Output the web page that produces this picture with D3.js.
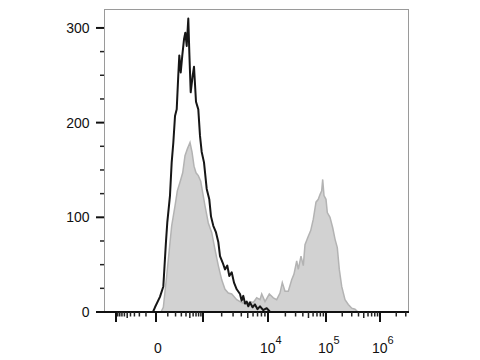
<!DOCTYPE html>
<html>
<head>
<meta charset="utf-8">
<script src="https://cdn.jsdelivr.net/npm/d3@7"></script>
<style>
body { margin: 0; background: #fff; }
</style>
</head>
<body>
<div id="my_dataviz"></div>
<script>
var width = 480;
var height = 360;

// control sample (black outline), intensity / events
var controlX = [-1900, -25, -8, 28, 56, 81, 95, 125, 146, 168, 192, 218, 244, 262, 288, 319, 355, 384, 418, 458,
    485, 525, 586, 629, 699, 788, 860, 937, 1039, 1152, 1270, 1353, 1474, 1628, 1770, 1883, 2076, 2253, 2446, 2626,
    2858, 3100, 3407, 3824, 4050, 4287, 4550, 4824, 5100, 5405, 5900, 6417, 7000, 7614, 8500, 9569, 10900, 3400000];
var controlY = [0, 0, 5, 16, 27, 74, 95, 123, 158, 179, 207, 214, 250, 271, 253, 271, 288, 295, 281, 310,
    275, 232, 250, 259, 222, 214, 186, 169, 158, 130, 119, 101, 91, 84, 74, 59, 52, 45, 49, 38,
    42, 31, 24, 19, 12, 17, 9, 11, 6, 10, 5, 8, 3, 6, 2, 4, 0, 0];

// stained sample (gray filled)
var stainedX = [-1900, 36, 56, 88, 117, 146, 192, 228, 274, 327, 377, 432, 505, 564, 629, 699, 788, 891, 985, 1080,
    1223, 1389, 1569, 1770, 2003, 2253, 2534, 2858, 3407, 4056, 4824, 5400, 6053, 6800, 7614, 8072, 9033, 10538, 12363, 14158,
    16150, 17695, 19710, 22470, 25710, 28170, 31365, 33405, 37185, 40740, 43560, 49635, 54600, 60510, 67335, 73740, 78870, 84330, 87765, 92385,
    100000, 105735, 118605, 133110, 146805, 161970, 176370, 195390, 224925, 258960, 299295, 344490, 391500, 3400000];
var stainedY = [0, 0, 5, 38, 66, 91, 112, 128, 137, 147, 165, 172, 179, 169, 154, 147, 144, 138, 126, 112,
    94, 84, 66, 49, 34, 24, 20, 19, 13, 10, 8, 11, 10, 15, 13, 19, 11, 19, 15, 13,
    20, 31, 22, 22, 34, 40, 54, 45, 59, 49, 71, 80, 86, 98, 116, 119, 124, 128, 140, 123,
    119, 105, 100, 89, 77, 68, 45, 27, 13, 8, 4, 3, 0, 0];

var yTickValues = [0, 100, 200, 300];
var xMajorTicks = [-1000, 0, 1000, 10000, 100000, 1000000];
var xLabelValues = [0, 10000, 100000, 1000000];
var xLabelExp = ['', '4', '5', '6'];

var svg = d3.select("#my_dataviz").append('svg').attr('width', width).attr('height', height)
    .style('display', 'block')
    .attr('font-family', '"Liberation Sans", Arial, Helvetica, sans-serif');

var plotLeft = 104, plotRight = 409, plotTop = 9, plotBottom = 312;

// biexponential-like display axis
var x = d3.scaleSymlog().constant(150)
    .domain([-1000, 0, 1000, 10000, 100000, 1000000])
    .range([116, 156, 203, 268, 326, 380]);
var y = d3.scaleLinear().domain([0, 320]).range([plotBottom, plotTop]);

// frame
svg.append('rect').attr('x', plotLeft + 0.5).attr('y', plotTop + 0.5)
    .attr('width', plotRight - plotLeft - 1).attr('height', plotBottom - plotTop)
    .attr('fill', 'none').attr('stroke', '#9a9a9a').attr('stroke-width', 1);

var stained = stainedX.map(function(v, i){ return [v, stainedY[i]]; });
var control = controlX.map(function(v, i){ return [v, controlY[i]]; });

var area = d3.area().x(function(d){ return x(d[0]); }).y0(y(0)).y1(function(d){ return y(d[1]); });
var line = d3.line().x(function(d){ return x(d[0]); }).y(function(d){ return y(d[1]); });

var plot = svg.append('g').attr('class', 'plot');
plot.append('path').datum(stained).attr('d', area)
    .attr('fill', '#d2d2d2').attr('stroke', '#b3b3b3').attr('stroke-width', 1.5);
plot.append('path').datum(control).attr('d', line)
    .attr('fill', 'none').attr('stroke', '#161616').attr('stroke-width', 2).attr('stroke-linejoin', 'round');

// y axis ticks
var yMinor = d3.range(25, 320, 25).filter(function(v){ return v % 100 != 0; });
var yAxis = svg.append('g').attr('class', 'y_axis');
yAxis.selectAll('.ymaj').data(yTickValues).enter().append('line')
    .attr('x1', 96).attr('x2', plotLeft).attr('y1', function(d){ return y(d); }).attr('y2', function(d){ return y(d); })
    .attr('stroke', '#111').attr('stroke-width', 2);
yAxis.selectAll('.ymin').data(yMinor).enter().append('line')
    .attr('x1', 100).attr('x2', plotLeft).attr('y1', function(d){ return y(d); }).attr('y2', function(d){ return y(d); })
    .attr('stroke', '#222').attr('stroke-width', 1.5);
yAxis.selectAll('text').data(yTickValues).enter().append('text')
    .attr('x', 89.5).attr('y', function(d){ return y(d); }).attr('dy', '0.35em')
    .attr('text-anchor', 'end').attr('font-size', 14).attr('fill', '#111')
    .text(function(d){ return d; });

// x axis
var xMinor = [];
[-100, 100, 1000, 10000, 100000].forEach(function(dec){
    for (var k = (Math.abs(dec) == 100 ? 1 : 2); k <= 9; k++) xMinor.push(k * dec);
});
xMinor.push(2000000, 3000000);

var xAxis = svg.append('g').attr('class', 'x_axis');
xAxis.append('line').attr('x1', plotLeft).attr('x2', plotRight).attr('y1', plotBottom).attr('y2', plotBottom)
    .attr('stroke', '#111').attr('stroke-width', 2);
xAxis.selectAll('.xmin').data(xMinor).enter().append('line')
    .attr('x1', function(d){ return x(d); }).attr('x2', function(d){ return x(d); })
    .attr('y1', plotBottom).attr('y2', function(d){ return String(Math.abs(d))[0] == '5' ? plotBottom + 6 : plotBottom + 4.5; })
    .attr('stroke', '#222').attr('stroke-width', 1.5);
xAxis.selectAll('.xmaj').data(xMajorTicks).enter().append('line')
    .attr('x1', function(d){ return x(d); }).attr('x2', function(d){ return x(d); })
    .attr('y1', plotBottom).attr('y2', plotBottom + 10)
    .attr('stroke', '#111').attr('stroke-width', 2);

var labels = xAxis.selectAll('.xlab').data(xLabelValues).enter().append('text')
    .attr('x', function(d, i){ return i == 0 ? x(d) + 2 : x(d) - 8; })
    .attr('y', 353)
    .attr('text-anchor', function(d, i){ return i == 0 ? 'middle' : 'start'; })
    .attr('font-size', 14).attr('fill', '#111');
labels.append('tspan').text(function(d, i){ return i == 0 ? '0' : '10'; });
labels.append('tspan').attr('dy', -9).attr('font-size', 11)
    .text(function(d, i){ return xLabelExp[i]; });
</script>
</body>
</html>
